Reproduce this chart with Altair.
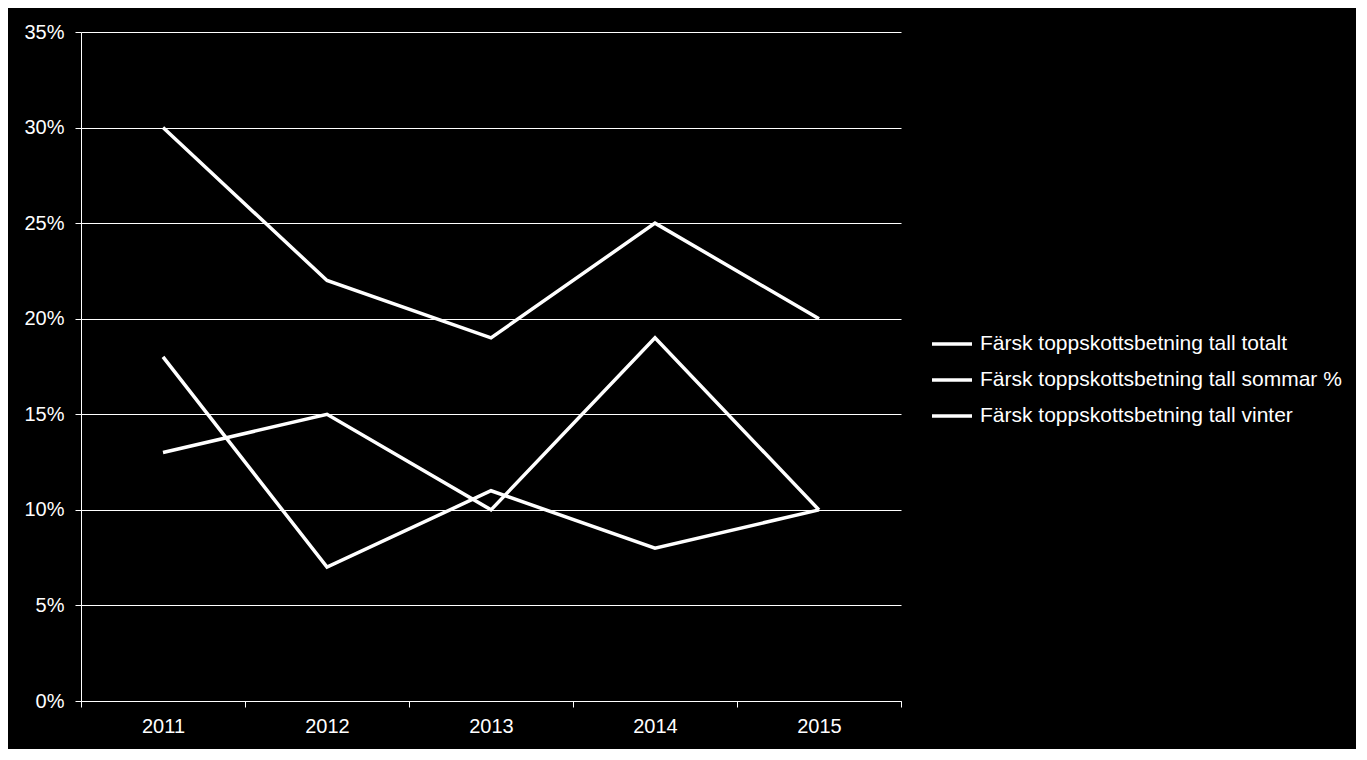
import altair as alt
import pandas as pd

years = ["2011", "2012", "2013", "2014", "2015"]
totalt = [0.30, 0.22, 0.19, 0.25, 0.20]
sommar = [0.13, 0.15, 0.10, 0.19, 0.10]
vinter = [0.18, 0.07, 0.11, 0.08, 0.10]
series_names = [
    "Färsk toppskottsbetning tall totalt",
    "Färsk toppskottsbetning tall sommar %",
    "Färsk toppskottsbetning tall vinter",
]

rows = []
for name, vals in zip(series_names, [totalt, sommar, vinter]):
    for y, v in zip(years, vals):
        rows.append({"year": y, "value": v, "series": name})
df = pd.DataFrame(rows)

FONT = "Liberation Sans"
FS = 20

chart = alt.Chart(df).mark_line(strokeWidth=3.5, color="white").encode(
    x=alt.X("year:O", title=None,
            scale=alt.Scale(type="band", paddingInner=0, paddingOuter=0),
            axis=alt.Axis(labelAngle=0, tickBand="extent", grid=False,
                          domainColor="white", tickColor="white", tickSize=6,
                          labelColor="white", labelFont=FONT, labelFontSize=FS,
                          labelPadding=9)),
    y=alt.Y("value:Q", title=None,
            scale=alt.Scale(domain=[0, 0.35], nice=False),
            axis=alt.Axis(values=[0, 0.05, 0.1, 0.15, 0.2, 0.25, 0.3, 0.35],
                          format=".0%", grid=True, gridColor="white", gridOpacity=1,
                          gridWidth=1, domainColor="white", tickColor="white",
                          tickSize=6, labelColor="white", labelFont=FONT,
                          labelFontSize=FS, labelPadding=11)),
    color=alt.Color("series:N", sort=series_names,
                    scale=alt.Scale(domain=series_names, range=["white", "white", "white"]),
                    legend=alt.Legend(title=None, orient="none", legendX=849, legendY=290,
                                      symbolType="stroke", symbolStrokeWidth=3.5,
                                      symbolSize=1600, labelColor="white",
                                      labelFont=FONT, labelFontSize=21,
                                      labelLimit=500, rowPadding=4, labelOffset=6)),
).properties(
    width=820, height=669,
    background="black",
    padding={"left": 73, "top": 24, "right": 455, "bottom": 48},
    autosize=alt.AutoSizeParams(type="none"),
).configure_view(stroke=None)

chart.save("out.html", embed_options={"renderer": "svg", "actions": False})
